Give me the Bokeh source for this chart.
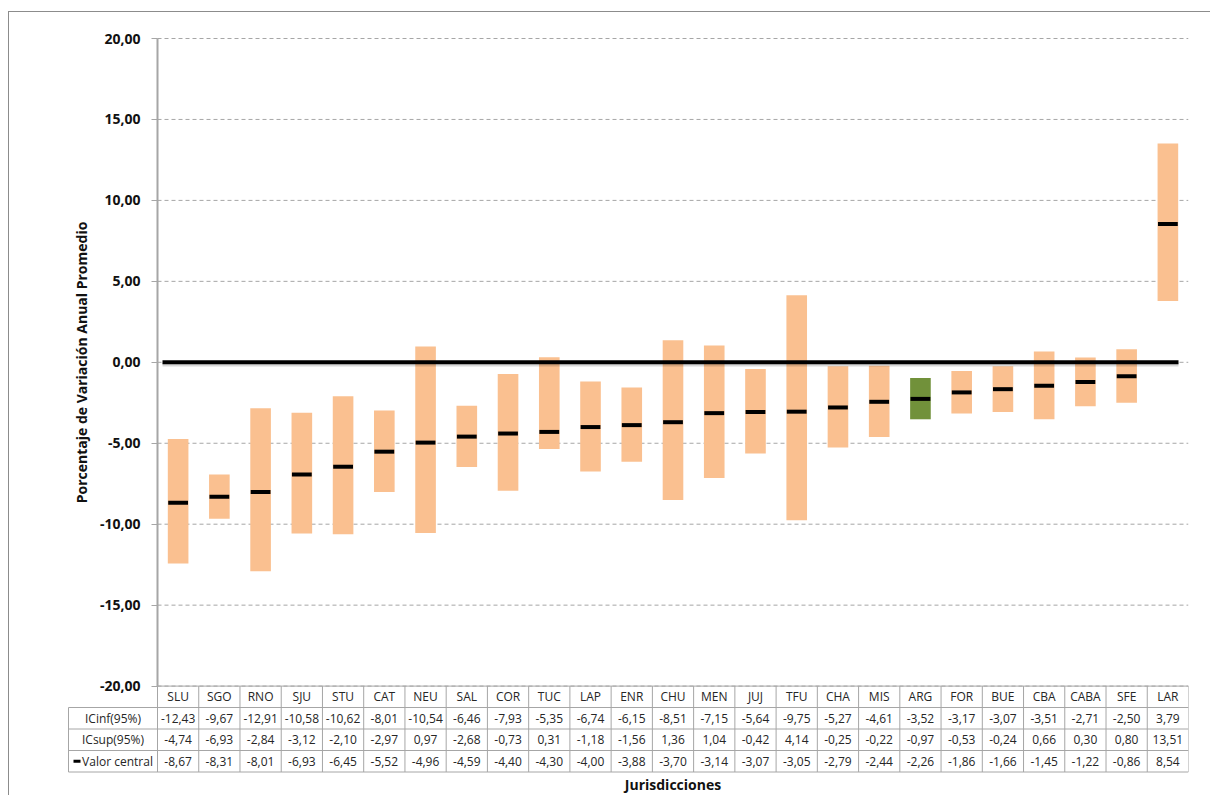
import math
from bokeh.plotting import figure
from bokeh.models import Range1d, FixedTicker, ColumnDataSource, CustomJSTickFormatter
from bokeh.core.properties import value
from bokeh.embed import file_html
from bokeh.resources import INLINE

# ---------------- data ----------------
categories = ["SLU", "SGO", "RNO", "SJU", "STU", "CAT", "NEU", "SAL", "COR", "TUC",
              "LAP", "ENR", "CHU", "MEN", "JUJ", "TFU", "CHA", "MIS", "ARG", "FOR",
              "BUE", "CBA", "CABA", "SFE", "LAR"]
ic_inf = [-12.43, -9.67, -12.91, -10.58, -10.62, -8.01, -10.54, -6.46, -7.93, -5.35,
          -6.74, -6.15, -8.51, -7.15, -5.64, -9.75, -5.27, -4.61, -3.52, -3.17,
          -3.07, -3.51, -2.71, -2.50, 3.79]
ic_sup = [-4.74, -6.93, -2.84, -3.12, -2.10, -2.97, 0.97, -2.68, -0.73, 0.31,
          -1.18, -1.56, 1.36, 1.04, -0.42, 4.14, -0.25, -0.22, -0.97, -0.53,
          -0.24, 0.66, 0.30, 0.80, 13.51]
central = [-8.67, -8.31, -8.01, -6.93, -6.45, -5.52, -4.96, -4.59, -4.40, -4.30,
           -4.00, -3.88, -3.70, -3.14, -3.07, -3.05, -2.79, -2.44, -2.26, -1.86,
           -1.66, -1.45, -1.22, -0.86, 8.54]
highlight = "ARG"
y_ticks = [-20, -15, -10, -5, 0, 5, 10, 15, 20]
row_labels = ["ICinf(95%)", "ICsup(95%)", "Valor central"]
x_title = "Jurisdicciones"
y_title = "Porcentaje de Variación Anual Promedio"

# ---------------- layout constants (page px) ----------------
W, H = 1210, 795
FRAME_L = 60
FRAME_TOP = 12
X0_PX = 157.0          # page px of category axis start
X1_PX = 1188.0         # page px of category axis end
Y20_PX = 38.0          # page px of y = 20
PX = 16.19             # px per data unit (y)
n = len(categories)
UX = (X1_PX - X0_PX) / n

BAR = "#FAC090"
HIL = "#71913A"
GRID = "#A6A6A6"
TXT = "#262626"
FONT = "Open Sans"


def fy(px):
    return 20 - (px - Y20_PX) / PX


def fx(px):
    return (px - X0_PX) / UX


def fmt(v):
    return f"{v:.2f}".replace(".", ",")


p = figure(width=W, height=H, output_backend="svg", toolbar_location=None,
           x_axis_location=None, x_range=Range1d(fx(FRAME_L), n),
           y_range=Range1d(fy(H), fy(FRAME_TOP)),
           min_border_left=FRAME_L, min_border_right=int(W - X1_PX),
           min_border_top=FRAME_TOP, min_border_bottom=0)
p.outline_line_color = None
p.background_fill_color = "white"
p.border_fill_color = None
p.styles = {"box-shadow": "inset 8px 0 0 0 #ffffff, inset 0 11px 0 0 #ffffff, "
                          "inset 9px 0 0 0 #8c8c8c, inset 0 12px 0 0 #8c8c8c"}
p.xgrid.visible = False
p.ygrid.visible = False

# dashed horizontal grid lines across the category area
p.segment(x0=[0] * len(y_ticks), x1=[n] * len(y_ticks), y0=y_ticks, y1=y_ticks,
          line_color=GRID, line_dash="4 3", line_width=1)

# y axis placed at the start of the category area
yax = p.yaxis[0]
yax.fixed_location = 0
yax.ticker = FixedTicker(ticks=y_ticks)
yax.formatter = CustomJSTickFormatter(code="return tick.toFixed(2).replace('.', ',');")
yax.bounds = (min(y_ticks), max(y_ticks))
yax.axis_line_color = GRID
yax.axis_line_width = 2
yax.major_tick_line_color = GRID
yax.major_tick_out = 6
yax.major_tick_in = 0
yax.minor_tick_line_color = None
yax.major_label_standoff = 11
yax.major_label_text_font = FONT
yax.major_label_text_font_style = "bold"
yax.major_label_text_font_size = "14px"
yax.major_label_text_color = "#111111"
yax.axis_label = y_title
yax.axis_label_text_font = FONT
yax.axis_label_text_font_style = "bold"
yax.axis_label_text_font_size = "14px"
yax.axis_label_text_color = "#111111"
yax.axis_label_standoff = 6

# bars and central markers
src = ColumnDataSource(dict(
    x=[i + 0.5 for i in range(n)],
    inf=ic_inf, sup=ic_sup, central=central,
    color=[HIL if c == highlight else BAR for c in categories],
))
p.vbar(x="x", width=0.5, bottom="inf", top="sup", fill_color="color", line_color=None, source=src)

# zero line with soft shadow
p.segment(x0=[fx(162)], x1=[fx(1178)], y0=[-2.2 / PX], y1=[-2.2 / PX],
          line_color="black", line_alpha=0.15, line_width=4)
p.segment(x0=[fx(162)], x1=[fx(1178)], y0=[0], y1=[0], line_color="black", line_width=4)

p.rect(x="x", y="central", width=0.48, height=4, height_units="screen",
       fill_color="black", line_color=None, source=src)

# ---------------- data table ----------------
b_px = [Y20_PX + 40 * PX]
for h in [21.4, 21.5, 21.5, 21.5]:
    b_px.append(b_px[-1] + h)
bounds = [fy(b) for b in b_px]
centers = [(bounds[k] + bounds[k + 1]) / 2 for k in range(4)]
XL = fx(68)

# horizontal lines (header top starts at the category area, others include label column)
p.segment(x0=[0] + [XL] * (len(bounds) - 1), x1=[n] * len(bounds), y0=bounds, y1=bounds,
          line_color=GRID, line_width=1)
# vertical lines
vx = list(range(n + 1))
p.segment(x0=vx, x1=vx, y0=[bounds[0]] * (n + 1), y1=[bounds[-1]] * (n + 1),
          line_color=GRID, line_width=1)
p.segment(x0=[XL], x1=[XL], y0=[bounds[1]], y1=[bounds[-1]], line_color=GRID, line_width=1)

tx, ty, tt = [], [], []
for i, c in enumerate(categories):
    tx.append(i + 0.5); ty.append(centers[0]); tt.append(c)
for r, vals in enumerate([ic_inf, ic_sup, central]):
    for i, v in enumerate(vals):
        tx.append(i + 0.5); ty.append(centers[r + 1]); tt.append(fmt(v))
p.text(x=tx, y=ty, text=tt, text_font=value(FONT), text_font_size="12px",
       text_align="center", text_baseline="middle", text_color=TXT)

# row labels
lx = [XL / 2, XL / 2, fx(117)]
p.text(x=lx, y=centers[1:], text=row_labels, text_font=value(FONT), text_font_size="12px",
       text_align="center", text_baseline="middle", text_color=TXT)
# legend dash for the central value
p.segment(x0=[fx(73)], x1=[fx(80)], y0=[centers[3]], y1=[centers[3]],
          line_color="black", line_width=3)

# x title
p.text(x=[n / 2], y=[fy(784)], text=[x_title], text_font=value(FONT), text_font_size="14px",
       text_font_style="bold", text_align="center", text_baseline="middle", text_color="#111111")

open("out.html", "w").write(file_html(p, INLINE))
